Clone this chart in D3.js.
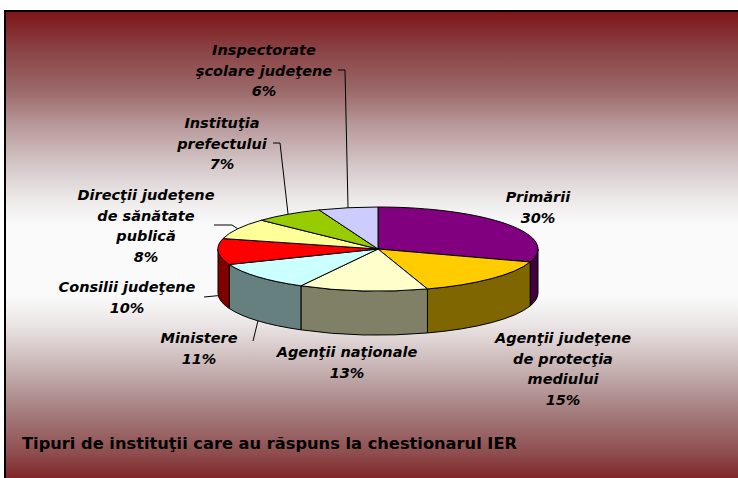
<!DOCTYPE html>
<html>
<head>
<meta charset="utf-8">
<script src="https://cdn.jsdelivr.net/npm/d3@7/dist/d3.min.js"></script>
<style>
  body { margin: 0; background: #fff; }
  svg text { font-family: "DejaVu Sans", sans-serif; }
</style>
</head>
<body>
<div id="chart"></div>
<script>
// data
var categories = [
    "Primării",
    "Agenţii judeţene\nde protecţia\nmediului",
    "Agenţii naţionale",
    "Ministere",
    "Consilii judeţene",
    "Direcţii judeţene\nde sănătate\npublică",
    "Instituţia\nprefectului",
    "Inspectorate\nşcolare judeţene"
];
var values = [30, 15, 13, 11, 10, 8, 7, 6];
var colors = ["#800080", "#FFCC00", "#FFFFCC", "#CCFFFF", "#FF0000", "#FFFF99", "#99CC00", "#CCCCFF"];
var title = "Tipuri de instituţii care au răspuns la chestionarul IER";

var attrs = {
    width: 738,
    height: 478,
    cx: 378,
    cy: 249,
    rx: 160,
    ry: 42,
    depth: 44,
    lineHeight: 20.5
};

// label placement (centre x, centre y of first line), leader elbow, leader target on top or side
var labelLayout = [
    {x: 538, y: 197},
    {x: 563, y: 338},
    {x: 347, y: 352},
    {x: 199, y: 338, leader: [[253, 341]], side: true},
    {x: 127, y: 287, leader: [[204, 297]], side: true},
    {x: 146, y: 195, leader: [[214, 225], [232, 225]]},
    {x: 222, y: 123, leader: [[273, 143], [280, 143]]},
    {x: 264, y: 50, leader: [[338, 70], [345, 70]]}
];

var svg = d3.select("#chart").append("svg")
    .attr("width", attrs.width)
    .attr("height", attrs.height);

var defs = svg.append("defs");
var grad = defs.append("linearGradient")
    .attr("id", "bg")
    .attr("x1", 0).attr("y1", 0).attr("x2", 0).attr("y2", 1);
[[0, "#7d1417"], [0.08, "#8a4244"], [0.17, "#9c6a6b"], [0.24, "#b89899"], [0.33, "#d6cacb"],
 [0.4, "#eeeaea"], [0.45, "#fafafa"], [0.6, "#fafafa"], [0.66, "#ebe5e5"], [0.75, "#c8b4b4"],
 [0.84, "#a67f80"], [0.93, "#8f4e50"], [1, "#7c1a1c"]].forEach(function(s) {
    grad.append("stop").attr("offset", s[0]).attr("stop-color", s[1]);
});

svg.append("rect")
    .attr("x", 5)
    .attr("y", 11)
    .attr("width", 745)
    .attr("height", 475)
    .attr("fill", "url(#bg)")
    .attr("stroke", "#000")
    .attr("stroke-width", 2);

var pie = d3.pie().sort(null).value(function(d) { return d; });
var arcs = pie(values);

function px(a) { return attrs.cx + attrs.rx * Math.sin(a); }
function py(a) { return attrs.cy - attrs.ry * Math.cos(a); }

function topPath(d) {
    var large = (d.endAngle - d.startAngle) > Math.PI ? 1 : 0;
    return "M" + attrs.cx + "," + attrs.cy +
        "L" + px(d.startAngle) + "," + py(d.startAngle) +
        "A" + attrs.rx + "," + attrs.ry + " 0 " + large + " 1 " + px(d.endAngle) + "," + py(d.endAngle) + "Z";
}

// outer wall, only the front half of the ellipse is visible
function sidePath(d) {
    var s = Math.max(d.startAngle, Math.PI / 2);
    var e = Math.min(d.endAngle, 3 * Math.PI / 2);
    if (s >= e) return null;
    var h = attrs.depth;
    return "M" + px(s) + "," + py(s) +
        "A" + attrs.rx + "," + attrs.ry + " 0 0 1 " + px(e) + "," + py(e) +
        "L" + px(e) + "," + (py(e) + h) +
        "A" + attrs.rx + "," + attrs.ry + " 0 0 0 " + px(s) + "," + (py(s) + h) + "Z";
}

function darker(c) {
    var r = d3.rgb(c);
    return d3.rgb(r.r / 2, r.g / 2, r.b / 2).toString();
}

var chart = svg.append("g").attr("class", "chartg");

chart.selectAll(".side").data(arcs.filter(function(d) { return sidePath(d) !== null; }))
    .enter().append("path")
    .attr("class", "side")
    .attr("d", sidePath)
    .attr("fill", function(d) { return darker(colors[d.index]); })
    .attr("stroke", "#000")
    .attr("stroke-width", 1)
    .attr("stroke-linejoin", "round");

chart.selectAll(".slice").data(arcs)
    .enter().append("path")
    .attr("class", "slice")
    .attr("d", topPath)
    .attr("fill", function(d) { return colors[d.index]; })
    .attr("stroke", "#000")
    .attr("stroke-width", 1)
    .attr("stroke-linejoin", "round");

// leader lines
var line = d3.line();
arcs.forEach(function(d) {
    var lay = labelLayout[d.index];
    if (!lay.leader) return;
    var mid = (d.startAngle + d.endAngle) / 2;
    var pts = lay.leader.slice();
    pts.push([px(mid), py(mid) + (lay.side ? attrs.depth : 0)]);
    chart.append("path")
        .attr("d", line(pts))
        .attr("fill", "none")
        .attr("stroke", "#000")
        .attr("stroke-width", 1);
});

// labels
var labels = chart.selectAll(".lbl").data(arcs)
    .enter().append("text")
    .attr("class", "lbl")
    .attr("text-anchor", "middle")
    .attr("font-size", 14.5)
    .attr("font-weight", "bold")
    .attr("font-style", "italic")
    .attr("fill", "#000");

labels.each(function(d) {
    var lay = labelLayout[d.index];
    var lines = categories[d.index].split("\n").concat([values[d.index] + "%"]);
    var t = d3.select(this);
    lines.forEach(function(s, i) {
        t.append("tspan")
            .attr("x", lay.x)
            .attr("y", lay.y + i * attrs.lineHeight)
            .attr("dy", "0.36em")
            .text(s);
    });
});

svg.append("text")
    .attr("x", 22)
    .attr("y", 449)
    .attr("font-size", 16)
    .attr("font-weight", "bold")
    .attr("textLength", 495)
    .attr("lengthAdjust", "spacingAndGlyphs")
    .attr("fill", "#000")
    .text(title);
</script>
</body>
</html>
